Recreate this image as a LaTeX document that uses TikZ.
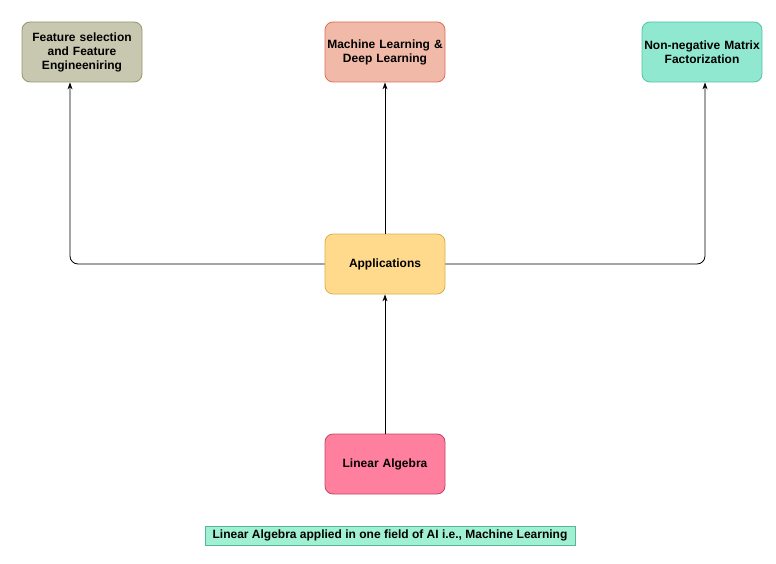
\documentclass[tikz,border=0pt]{standalone}
\usepackage{fontspec}
\setmainfont{Liberation Sans}
\usetikzlibrary{arrows.meta}
\definecolor{fa}{RGB}{200,200,177}\definecolor{sa}{RGB}{150,150,110}
\definecolor{fb}{RGB}{240,185,168}\definecolor{sb}{RGB}{220,110,90}
\definecolor{fc}{RGB}{144,232,208}\definecolor{sc}{RGB}{80,195,165}
\definecolor{fd}{RGB}{255,218,140}\definecolor{sd}{RGB}{214,176,80}
\definecolor{fe}{RGB}{255,128,158}\definecolor{se}{RGB}{190,70,100}
\definecolor{ff}{RGB}{160,240,210}\definecolor{sf}{RGB}{90,180,150}
\begin{document}
\begin{tikzpicture}[x=1pt,y=-1pt,
  box/.style={draw,line width=0.8pt,rounded corners=8pt,minimum width=120pt,minimum height=60pt,
    inner sep=1pt,align=center,text width=118pt,font=\fontsize{12}{14}\selectfont\bfseries},
  conn/.style={draw,line width=0.8pt,-{Stealth[length=7pt,width=5pt]}}]
\useasboundingbox (0,0) rectangle (776,564);
\node[box,fill=fa,draw=sa] (fs) at (82,52) {Feature selection\\and Feature\\Engineeniring};
\node[box,fill=fb,draw=sb] (ml) at (385,52) {Machine Learning \&\\Deep Learning};
\node[box,fill=fc,draw=sc] (nm) at (702,52) {Non-negative Matrix\\Factorization};
\node[box,fill=fd,draw=sd] (ap) at (385,264) {Applications};
\node[box,fill=fe,draw=se] (la) at (385,464) {Linear Algebra};
\node[draw=sf,fill=ff,line width=0.8pt,minimum width=370pt,minimum height=19pt,inner sep=1pt,
  font=\fontsize{12}{14}\selectfont\bfseries] (cap) at (390,535.5) {Linear Algebra applied in one field of AI i.e., Machine Learning};
\draw[conn] (la.north) -- (ap.south);
\draw[conn] (ap.north) -- (ml.south);
\draw[conn,rounded corners=8pt] (ap.west) -| ([xshift=-12pt]fs.south);
\draw[conn,rounded corners=8pt] (ap.east) -| ([xshift=3pt]nm.south);
\end{tikzpicture}
\end{document}
